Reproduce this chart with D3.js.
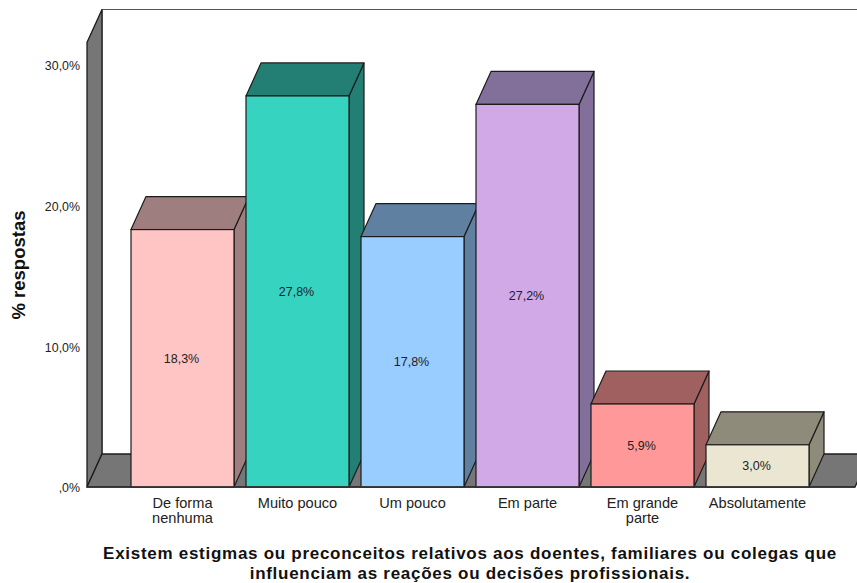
<!DOCTYPE html>
<html>
<head>
<meta charset="utf-8">
<script src="https://cdn.jsdelivr.net/npm/d3@7"></script>
<style>
  html, body { margin: 0; padding: 0; background: #fff; }
  svg { display: block; }
  text { font-family: "Liberation Sans", Arial, sans-serif; fill: #222; }
</style>
</head>
<body>
<svg id="chart" width="857" height="583"></svg>
<script>
// Survey results
const categories = ["De forma nenhuma", "Muito pouco", "Um pouco", "Em parte", "Em grande parte", "Absolutamente"];
const categoryLines = [["De forma", "nenhuma"], ["Muito pouco"], ["Um pouco"], ["Em parte"], ["Em grande", "parte"], ["Absolutamente"]];
const values = [18.3, 27.8, 17.8, 27.2, 5.9, 3.0];
const valueLabels = ["18,3%", "27,8%", "17,8%", "27,2%", "5,9%", "3,0%"];
const tickValues = [0, 10, 20, 30];
const tickLabels = [",0%", "10,0%", "20,0%", "30,0%"];
const frontColors = ["#FFC4C4", "#37D3C1", "#99CCFF", "#D0A9E6", "#FF9999", "#EBE6D2"];
const sideColors = ["#9E7E7E", "#237F74", "#5F80A0", "#83709A", "#A06060", "#8F8B7B"];
const wallColor = "#767676";
const lineColor = "#1c1c1c";

// Oblique projection offset of the 3D box depth
const depthX = 15, depthY = -33;

const svg = d3.select("#chart");

const y = d3.scaleLinear().domain([0, 30]).range([487, 65]);
const x = d3.scaleBand().domain(categories).range([131, 809]).paddingInner(12 / 115).paddingOuter(0);

const wallLeft = 87, floorRight = 855, wallTop = y(31.6), baseY = y(0);
const poly = pts => pts.map(p => p.join(",")).join(" ");

// Back wall outline
svg.append("path")
  .attr("d", `M${wallLeft + depthX},${baseY + depthY}V${wallTop + depthY}H${857}`)
  .attr("fill", "none").attr("stroke", "#555").attr("stroke-width", 1.2);

// Left wall
svg.append("polygon")
  .attr("points", poly([[wallLeft, baseY], [wallLeft, wallTop], [wallLeft + depthX, wallTop + depthY], [wallLeft + depthX, baseY + depthY]]))
  .attr("fill", wallColor).attr("stroke", lineColor).attr("stroke-width", 1.3);

// Floor
svg.append("polygon")
  .attr("points", poly([[wallLeft, baseY], [wallLeft + depthX, baseY + depthY], [floorRight + depthX, baseY + depthY], [floorRight, baseY]]))
  .attr("fill", wallColor).attr("stroke", lineColor).attr("stroke-width", 1.3);

// Bars, drawn left to right so each front hides its neighbour's side
const bars = svg.append("g").selectAll("g").data(categories).join("g");

bars.append("polygon")
  .attr("points", (d, i) => {
    const r = x(d) + x.bandwidth(), t = y(values[i]);
    return poly([[r, baseY], [r, t], [r + depthX, t + depthY], [r + depthX, baseY + depthY]]);
  })
  .attr("fill", (d, i) => sideColors[i]).attr("stroke", lineColor).attr("stroke-width", 1.2).attr("stroke-linejoin", "round");

bars.append("polygon")
  .attr("points", (d, i) => {
    const l = x(d), r = l + x.bandwidth(), t = y(values[i]);
    return poly([[l, t], [l + depthX, t + depthY], [r + depthX, t + depthY], [r, t]]);
  })
  .attr("fill", (d, i) => sideColors[i]).attr("stroke", lineColor).attr("stroke-width", 1.2).attr("stroke-linejoin", "round");

bars.append("rect")
  .attr("x", d => x(d))
  .attr("y", (d, i) => y(values[i]))
  .attr("width", x.bandwidth())
  .attr("height", (d, i) => baseY - y(values[i]))
  .attr("fill", (d, i) => frontColors[i]).attr("stroke", lineColor).attr("stroke-width", 1.2);

bars.append("text")
  .attr("x", d => x(d) + x.bandwidth() / 2 - 1)
  .attr("y", (d, i) => (y(values[i]) + baseY) / 2 + 4.5)
  .attr("text-anchor", "middle")
  .attr("font-size", 12.5)
  .text((d, i) => valueLabels[i]);

// Base line along the front of the floor
svg.append("line")
  .attr("x1", wallLeft).attr("x2", floorRight).attr("y1", baseY).attr("y2", baseY)
  .attr("stroke", "#333").attr("stroke-width", 1.4);

// Value axis
const yAxis = d3.axisLeft(y)
  .tickValues(tickValues)
  .tickSize(0)
  .tickPadding(0)
  .tickFormat((d, i) => tickLabels[i]);
const yAxisG = svg.append("g").attr("transform", "translate(80,1)").call(yAxis);
yAxisG.select(".domain").remove();
yAxisG.selectAll("text").attr("font-size", 12.4);
yAxisG.attr("font-family", null).attr("font-size", null);

// Category labels
const xLabels = svg.append("g").selectAll("text").data(categories).join("text")
  .attr("text-anchor", "middle")
  .attr("font-size", 14.6)
  .attr("y", 508);
xLabels.selectAll("tspan")
  .data((d, i) => categoryLines[i].map(line => ({ line, cx: x(d) + x.bandwidth() / 2 })))
  .join("tspan")
  .attr("x", d => d.cx)
  .attr("dy", (d, i) => i === 0 ? 0 : 15)
  .text(d => d.line);

// Axis titles
svg.append("text")
  .attr("transform", "translate(25,265) rotate(-90)")
  .attr("text-anchor", "middle")
  .attr("font-size", 18.5)
  .attr("font-weight", "bold")
  .style("fill", "#111")
  .text("% respostas");

const titleLines = [
  "Existem estigmas ou preconceitos relativos aos doentes, familiares ou colegas que",
  "influenciam as reações ou decisões profissionais."
];
svg.append("g").selectAll("text").data(titleLines).join("text")
  .attr("x", 470)
  .attr("y", (d, i) => 559 + i * 19.5)
  .attr("text-anchor", "middle")
  .attr("font-size", 17)
  .attr("letter-spacing", 0.72)
  .attr("font-weight", "bold")
  .style("fill", "#111")
  .text(d => d);
</script>
</body>
</html>
